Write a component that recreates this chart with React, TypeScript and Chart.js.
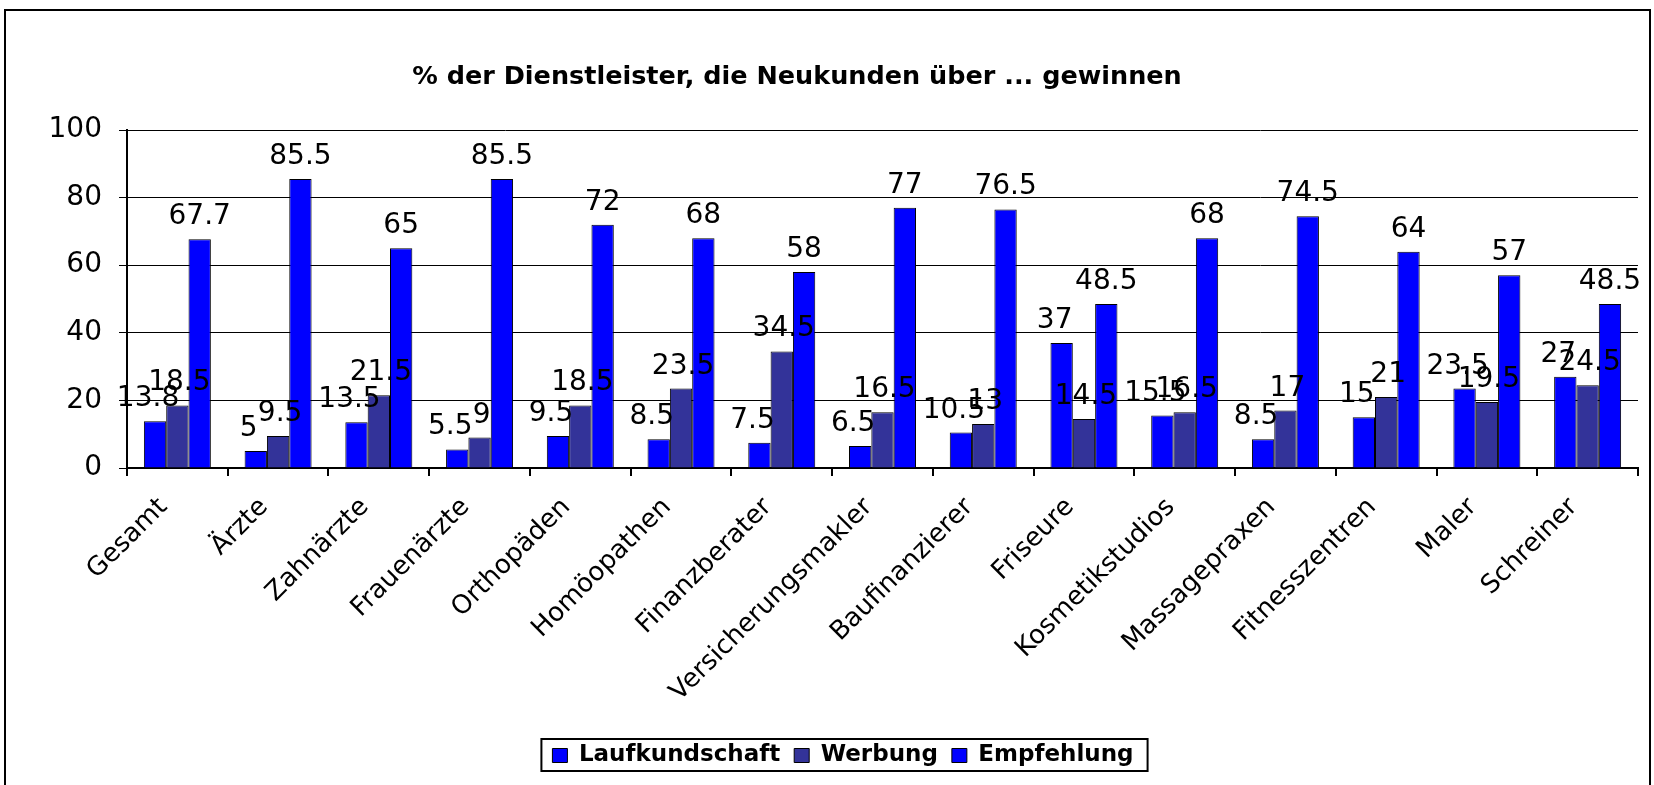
import React, { useEffect, useRef } from "react";
import { Chart, registerables } from "chart.js";

Chart.register(...registerables);

const categories = [
  "Gesamt",
  "Ärzte",
  "Zahnärzte",
  "Frauenärzte",
  "Orthopäden",
  "Homöopathen",
  "Finanzberater",
  "Versicherungsmakler",
  "Baufinanzierer",
  "Friseure",
  "Kosmetikstudios",
  "Massagepraxen",
  "Fitnesszentren",
  "Maler",
  "Schreiner",
];
const laufkundschaft = [13.8, 5, 13.5, 5.5, 9.5, 8.5, 7.5, 6.5, 10.5, 37, 15.5, 8.5, 15, 23.5, 27];
const werbung = [18.5, 9.5, 21.5, 9, 18.5, 23.5, 34.5, 16.5, 13, 14.5, 16.5, 17, 21, 19.5, 24.5];
const empfehlung = [67.7, 85.5, 65, 85.5, 72, 68, 58, 77, 76.5, 48.5, 68, 74.5, 64, 57, 48.5];
const seriesNames = ["Laufkundschaft", "Werbung", "Empfehlung"];
const seriesColors = ["#0000FF", "#333399", "#0000FF"];
const yMin = 0;
const yMax = 100;
const yStep = 20;
const chartTitle = "% der Dienstleister, die Neukunden über ... gewinnen";

const W = 1654;
const H = 785;
const FONT = "'DejaVu Sans', Verdana, sans-serif";
const PAD_BOTTOM = 15;
const PLOT_BOTTOM = 468;
const LABEL_DX = [-7, 2, 0];

const framePlugin = {
  id: "frame",
  beforeDraw(chart: any) {
    const ctx = chart.ctx;
    ctx.save();
    ctx.fillStyle = "#fff";
    ctx.fillRect(0, 0, chart.width, chart.height);
    ctx.strokeStyle = "#000";
    ctx.lineWidth = 2;
    ctx.strokeRect(5, 10, 1645, 800);
    ctx.restore();
  },
  afterDraw(chart: any) {
    const ctx = chart.ctx;
    ctx.save();
    ctx.fillStyle = "#000";
    ctx.font = `bold 25.5px ${FONT}`;
    ctx.textAlign = "center";
    ctx.textBaseline = "alphabetic";
    ctx.fillText(chartTitle, 797, 84);
    // legend border
    const lg = chart.legend;
    if (lg && lg.legendHitBoxes && lg.legendHitBoxes.length) {
      let minX = Infinity, maxX = -Infinity, minY = Infinity, maxY = -Infinity;
      lg.legendHitBoxes.forEach((b: any) => {
        minX = Math.min(minX, b.left);
        maxX = Math.max(maxX, b.left + b.width);
        minY = Math.min(minY, b.top);
        maxY = Math.max(maxY, b.top + b.height);
      });
      ctx.strokeStyle = "#000";
      ctx.lineWidth = 2;
      ctx.strokeRect(minX - 11, minY - 5, maxX - minX + 25, maxY - minY + 9);
    }
    ctx.restore();
  },
};

const valueLabelPlugin = {
  id: "valueLabels",
  afterDatasetsDraw(chart: any) {
    const ctx = chart.ctx;
    ctx.save();
    ctx.fillStyle = "#000";
    ctx.font = `28px ${FONT}`;
    ctx.textAlign = "center";
    ctx.textBaseline = "alphabetic";
    chart.data.datasets.forEach((ds: any, i: number) => {
      const meta = chart.getDatasetMeta(i);
      meta.data.forEach((bar: any, j: number) => {
        ctx.fillText(String(ds.data[j]), bar.x + LABEL_DX[i], bar.y - 15);
      });
    });
    ctx.restore();
  },
};

export default function App() {
  const ref = useRef<HTMLCanvasElement>(null);

  useEffect(() => {
    if (!ref.current) return;
    const seriesData = [laufkundschaft, werbung, empfehlung];
    const chart = new Chart(ref.current, {
      type: "bar",
      data: {
        labels: categories,
        datasets: seriesNames.map((name, i) => ({
          label: name,
          data: seriesData[i],
          backgroundColor: seriesColors[i],
          borderColor: "#000",
          borderWidth: 1,
          categoryPercentage: 0.665,
          barPercentage: 1.0,
        })),
      },
      options: {
        responsive: false,
        animation: false,
        devicePixelRatio: 1,
        layout: { padding: { top: 130, left: 48, right: 16, bottom: PAD_BOTTOM } },
        plugins: {
          title: { display: false },
          tooltip: { enabled: false },
          legend: {
            display: true,
            position: "bottom",
            maxHeight: 40,
            labels: {
              boxWidth: 15,
              boxHeight: 14,
              padding: 14,
              color: "#000",
              font: { family: FONT, size: 23, weight: "bold" },
            },
          },
        },
        scales: {
          x: {
            grid: {
              display: true,
              drawOnChartArea: false,
              drawTicks: true,
              tickLength: 8,
              color: "#000",
              lineWidth: 2,
              offset: true,
            },
            border: { color: "#000", width: 2 },
            ticks: {
              color: "#000",
              font: { family: FONT, size: 26 },
              minRotation: 45,
              maxRotation: 45,
              autoSkip: false,
              padding: 16,
              labelOffset: -14,
            },
            afterFit: (s: any) => {
              const lg = s.chart.legend;
              const lh = lg ? lg.height : 40;
              s.height = H - PAD_BOTTOM - lh - PLOT_BOTTOM;
            },
          },
          y: {
            min: yMin,
            max: yMax,
            ticks: {
              stepSize: yStep,
              color: "#000",
              font: { family: FONT, size: 28 },
              padding: 17,
            },
            grid: { color: "#000", lineWidth: 1, tickLength: 8 },
            border: { color: "#000", width: 2 },
            afterFit: (s: any) => {
              s.width = 79;
            },
          },
        },
      },
      plugins: [framePlugin, valueLabelPlugin],
    } as any);
    return () => chart.destroy();
  }, []);

  return (
    <div
      style={{
        position: "absolute",
        left: 0,
        top: 0,
        width: W,
        height: H,
        overflow: "hidden",
        background: "#fff",
      }}
    >
      <canvas ref={ref} width={W} height={H} style={{ display: "block" }} />
    </div>
  );
}
